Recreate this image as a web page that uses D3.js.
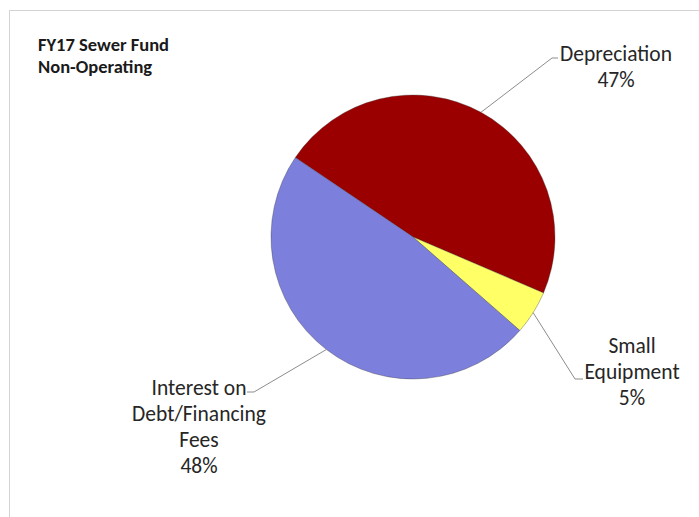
<!DOCTYPE html>
<html>
<head>
<meta charset="utf-8">
<script src="https://cdn.jsdelivr.net/npm/d3@7"></script>
<style>
html,body{margin:0;padding:0;background:#fff;}
svg{display:block;}
</style>
</head>
<body>
<svg id="chart" width="699" height="517"></svg>
<script>
const categories = ["Depreciation", "Small Equipment", "Interest on Debt/Financing Fees"];
const values = [47, 5, 48];
const labelLines = [["Depreciation", "47%"], ["Small", "Equipment", "5%"], ["Interest on", "Debt/Financing", "Fees", "48%"]];
const colors = ["#9b0000", "#ffff66", "#7c7fdc"];
const titleLines = ["FY17 Sewer Fund", "Non-Operating"];

const svg = d3.select("#chart");
const W = 699, H = 517;
svg.append("rect").attr("x", 9.5).attr("y", 10.5).attr("width", W + 10).attr("height", H + 10)
  .attr("fill", "#fff").attr("stroke", "#d4d4d4").attr("stroke-width", 1);

const cx = 413, cy = 237, R = 142;
const g = svg.append("g").attr("transform", `translate(${cx},${cy})`);
const pie = d3.pie().sort(null).value(d => d)
  .startAngle(-56 * Math.PI / 180).endAngle((360 - 56) * Math.PI / 180);
const arcs = pie(values);
const arc = d3.arc().innerRadius(0).outerRadius(R);
g.selectAll("path.slice").data(arcs).join("path")
  .attr("class", "slice").attr("d", arc)
  .attr("fill", (d, i) => colors[i])
  .attr("stroke", "#3a3a3a").attr("stroke-width", 0.6).attr("stroke-opacity", 0.6);

const font = "Carlito, Lato, 'Open Sans', sans-serif";
const layout = [
  {x: 203, y: -176, ex: 139, ey: -179, tx: 145},
  {x: 219, y: 116, ex: 162, ey: 142, tx: 170},
  {x: -214, y: 158, ex: -159, ey: 155, tx: -166}
];
const lh = 26;
arcs.forEach((d, i) => {
  const a = (d.startAngle + d.endAngle) / 2;
  const sx = R * Math.sin(a), sy = -R * Math.cos(a);
  const L = layout[i];
  g.append("polyline")
    .attr("points", `${sx},${sy} ${L.ex},${L.ey} ${L.tx},${L.ey}`)
    .attr("fill", "none").attr("stroke", "#8c8c8c").attr("stroke-width", 1);
  const t = g.append("text").attr("text-anchor", "middle")
    .attr("font-family", font).attr("font-size", 21.5).attr("fill", "#262626");
  labelLines[i].forEach((s, k) => {
    t.append("tspan").attr("x", L.x).attr("y", L.y + k * lh).text(s);
  });
});

const tt = svg.append("text").attr("font-family", font).attr("font-weight", "bold")
  .attr("font-size", 18.5).attr("fill", "#1a1a1a");
titleLines.forEach((s, k) => tt.append("tspan").attr("x", 38).attr("y", 51 + k * 22).text(s));
</script>
</body>
</html>
